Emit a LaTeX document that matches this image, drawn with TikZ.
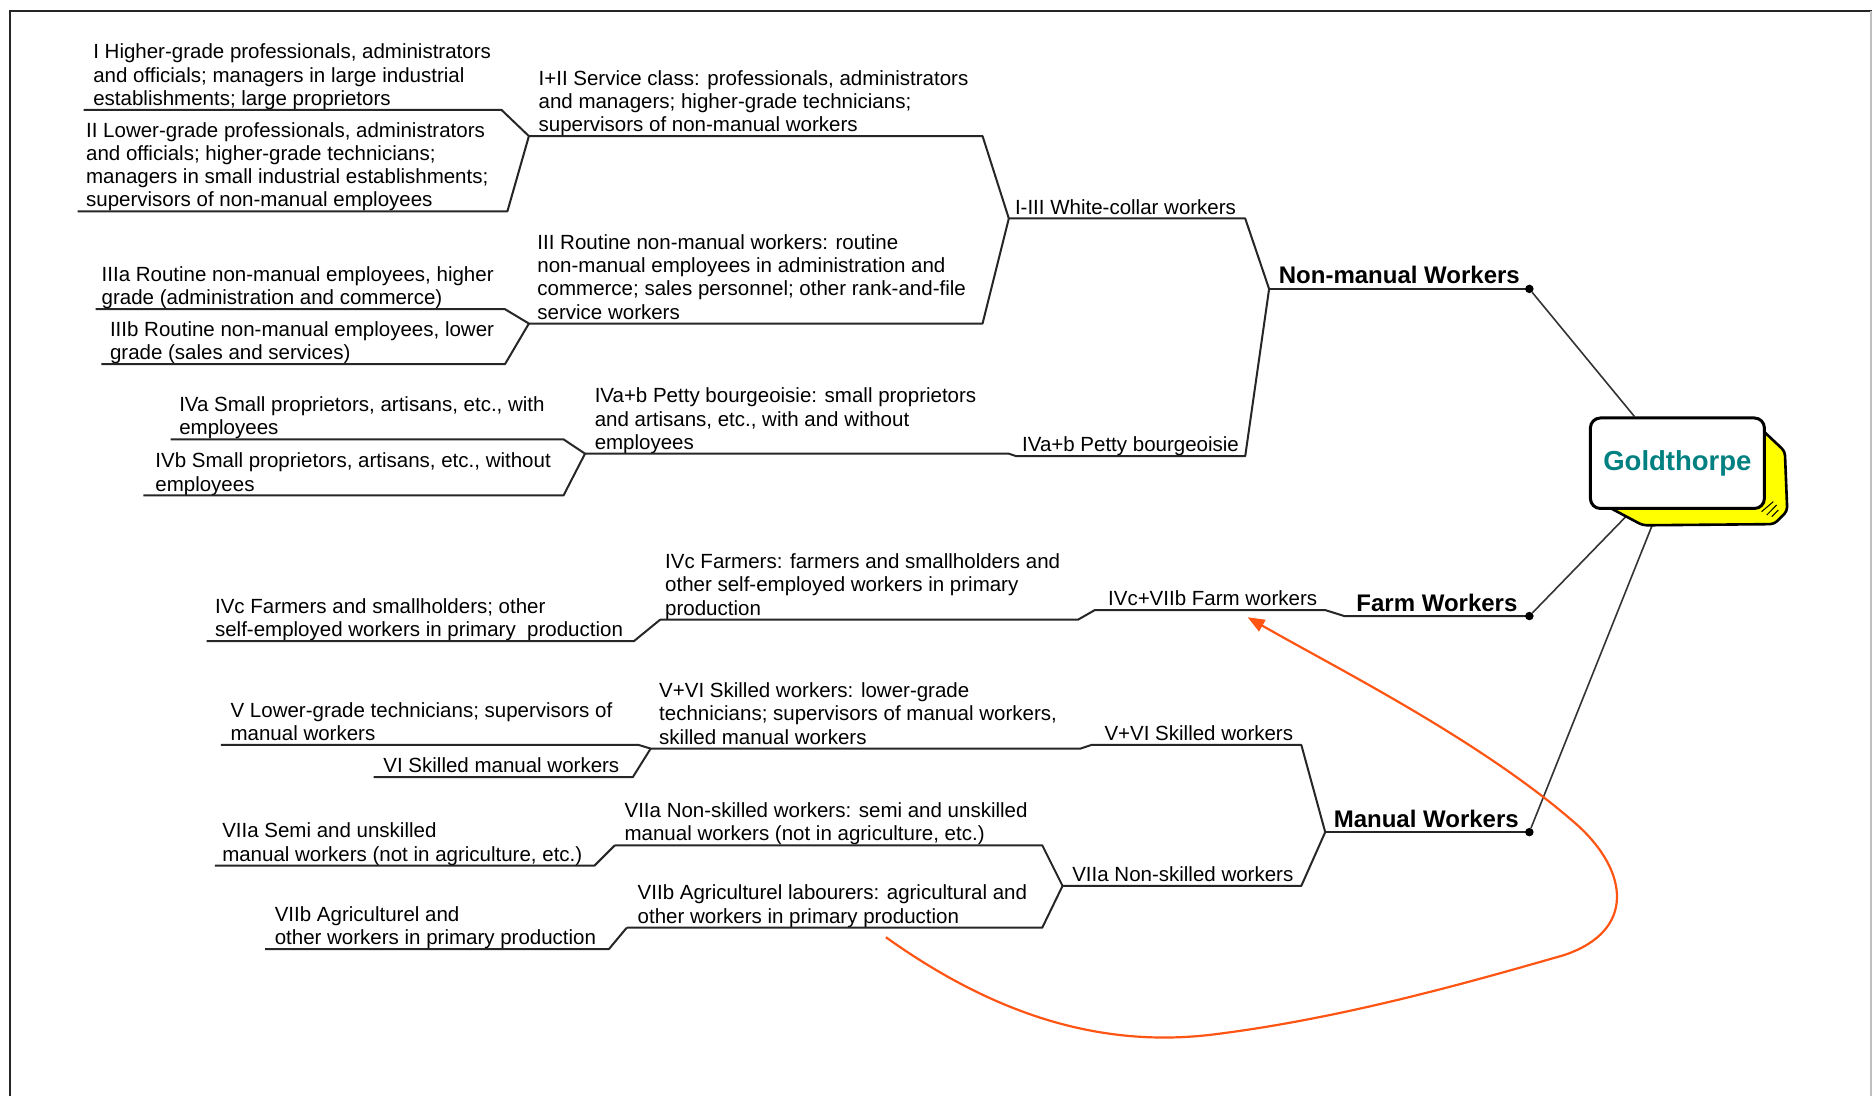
\documentclass[tikz,border=0pt]{standalone}
\usepackage{fontspec}
\setmainfont{Liberation Sans}
\usetikzlibrary{arrows.meta,calc,backgrounds}
\definecolor{orangeline}{RGB}{255,85,20}
\definecolor{tealtext}{RGB}{0,128,128}
\definecolor{boxyellow}{RGB}{255,255,0}
\tikzset{
  txt/.style={anchor=south west, inner sep=0pt, text depth=0pt, align=left, yshift=-2.4pt,
              font=\fontsize{20.5}{23.3}\selectfont},
  big/.style={anchor=south west, inner sep=0pt, text depth=0pt, yshift=-2.4pt,
              font=\fontsize{24}{28}\selectfont\bfseries},
  ln/.style={line width=2pt, black!85, line join=round},
  dotnode/.style={circle, fill=black, inner sep=0pt, minimum size=8.5pt},
  conn/.style={line width=1.6pt, black!80},
  orangearrow/.style={line width=2.2pt, draw=orangeline,
              -{Triangle[length=17pt,width=13pt]}},
}
\begin{document}
\begin{tikzpicture}[x=1.1939pt, y=-1.1939pt]
\useasboundingbox (0,0) rectangle (1568,918);
% frame
\draw[line width=2pt, black!85] (8.4,918) -- (8.4,9.2) -- (1568,9.2);
\draw[line width=1.5pt, black!25] (1567.2,9.2) -- (1567.2,918);

% ---------- Non-manual ----------
\coordinate (jI) at (443,114);
\coordinate (jIII) at (443,271);
\coordinate (jWC) at (845,183);
\coordinate (jNM) at (1063,242);
\coordinate (jIV) at (490,380);
\coordinate (dNM) at (1281,242);

\node[txt] (a1) at (78,86.5) {I Higher-grade professionals, administrators\\and officials; managers in large industrial\\establishments; large proprietors};
\draw[ln] (70,92) -- (420,92) -- (jI);
\node[txt] (a2) at (72,171.5) {II Lower-grade professionals, administrators\\and officials; higher-grade technicians;\\managers in small industrial establishments;\\supervisors of non-manual employees};
\draw[ln] (65,177) -- (425,177) -- (jI);
\node[txt] (b1) at (451,108.5) {I+II Service class: professionals, administrators\\and managers; higher-grade technicians;\\supervisors of non-manual workers};
\draw[ln] (jI) -- (823,114) -- (jWC);

\node[txt] (a3) at (85,253.5) {IIIa Routine non-manual employees, higher\\grade (administration and commerce)};
\draw[ln] (80,259) -- (423,259) -- (jIII);
\node[txt] (a4) at (92,299.5) {IIIb Routine non-manual employees, lower\\grade (sales and services)};
\draw[ln] (85,305) -- (423,305) -- (jIII);
\node[txt] (b2) at (450,265.5) {III Routine non-manual workers: routine\\non-manual employees in administration and\\commerce; sales personnel; other rank-and-file\\service workers};
\draw[ln] (jIII) -- (823,271) -- (jWC);

\node[txt] (c1) at (850,177.5) {I-III White-collar workers};
\draw[ln] (jWC) -- (1043,183) -- (jNM);
\node[big] (nm) at (1071,236) {Non-manual Workers};
\draw[ln] (jNM) -- (dNM);

\node[txt] (a5) at (150,362.5) {IVa Small proprietors, artisans, etc., with\\employees};
\draw[ln] (143,368) -- (472,368) -- (jIV);
\node[txt] (a6) at (130,409.5) {IVb Small proprietors, artisans, etc., without\\employees};
\draw[ln] (120,415) -- (472,415) -- (jIV);
\node[txt] (b3) at (498,374.5) {IVa+b Petty bourgeoisie: small proprietors\\and artisans, etc., with and without\\employees};
\node[txt] (c2) at (856,376.5) {IVa+b Petty bourgeoisie};
\draw[ln] (jIV) -- (845,380) -- (851,382) -- (1043,382) -- (jNM);

% ---------- Farm ----------
\coordinate (jF) at (553,519);
\coordinate (dFW) at (1281,516);
\node[txt] (a7) at (180,531.5) {IVc Farmers and smallholders; other\\self-employed workers in primary\ \ production};
\draw[ln] (173,537) -- (531,537) -- (jF);
\node[txt] (b4) at (557,513.5) {IVc Farmers: farmers and smallholders and\\other self-employed workers in primary\\production};
\node[txt] (c3) at (928,505.5) {IVc+VIIb Farm workers};
\node[big] (fw) at (1136,510) {Farm Workers};
\draw[ln] (jF) -- (903,519) -- (917,511) -- (1110,511) -- (1126,516) -- (dFW);

% ---------- Manual ----------
\coordinate (jV) at (545,627);
\coordinate (jMW) at (1110,697);
\coordinate (dMW) at (1281,697);
\coordinate (jVIIa) at (515,708);
\coordinate (jVIIb) at (525,777);
\coordinate (jNS) at (890,742);

\node[txt] (a8) at (193,618.5) {V Lower-grade technicians; supervisors of\\manual workers};
\draw[ln] (185,624) -- (535,624) -- (jV);
\node[txt] (a9) at (321,645.5) {VI Skilled manual workers};
\draw[ln] (313,651) -- (530,651) -- (jV);
\node[txt] (b5) at (552,621.5) {V+VI Skilled workers: lower-grade\\technicians; supervisors of manual workers,\\skilled manual workers};
\node[txt] (c4) at (925,618.5) {V+VI Skilled workers};
\draw[ln] (jV) -- (905,627) -- (914,624) -- (1090,624) -- (jMW);
\node[big] (mw) at (1117,691) {Manual Workers};
\draw[ln] (jMW) -- (dMW);

\node[txt] (a10) at (186,719.5) {VIIa Semi and unskilled\\manual workers (not in agriculture, etc.)};
\draw[ln] (180,725) -- (498,725) -- (jVIIa);
\node[txt] (b6) at (523,702.5) {VIIa Non-skilled workers: semi and unskilled\\manual workers (not in agriculture, etc.)};
\draw[ln] (jVIIa) -- (873,708) -- (jNS);
\node[txt] (a11) at (230,789.5) {VIIb Agriculturel and\\other workers in primary production};
\draw[ln] (222,795) -- (510,795) -- (jVIIb);
\node[txt] (b7) at (534,771.5) {VIIb Agriculturel labourers: agricultural and\\other workers in primary production};
\draw[ln] (jVIIb) -- (873,777) -- (jNS);
\node[txt] (c5) at (898,736.5) {VIIa Non-skilled workers};
\draw[ln] (jNS) -- (1090,742) -- (jMW);

% dots
\node[dotnode] (dotNM) at (dNM) {};
\node[dotnode] (dotFW) at (dFW) {};
\node[dotnode] (dotMW) at (dMW) {};

% ---------- Goldthorpe box ----------
\node[draw=black, line width=3pt, fill=white, rounded corners=10pt,
      minimum width=174pt, minimum height=90.5pt,
      font=\fontsize{27.5}{30}\selectfont\bfseries, text=tealtext] (gold) at (1405,388) {Goldthorpe};
\begin{scope}[on background layer]
  \draw[conn] (dotNM) -- ($(gold.north west)!0.257!(gold.north east)$);
  \draw[conn] (dotFW) -- ($(gold.south west)!0.245!(gold.south east)$);
  \draw[conn] (dotMW) -- ($(gold.south west)!0.392!(gold.south east)$);
  \filldraw[fill=boxyellow, draw=black, line width=2.6pt, line join=round, rounded corners=4pt]
    (1472,354) -- (1478,362) -- (1495,378) -- (1497,428) -- (1486,439)
    -- (1376,440) -- (1346,424) -- cycle;
  \draw[line width=1pt] (1475.5,428.6) -- (1485.3,420.2);
  \draw[line width=1pt] (1479.8,431.4) -- (1488.1,423);
  \draw[line width=1pt] (1484,432.8) -- (1489.5,427.2);
\end{scope}

% ---------- orange arrow ----------
\coordinate (oStart) at (742,785);
\coordinate (oEnd) at (1045,517);
\draw[orangearrow] (oStart) .. controls (840,855) and (930,878) .. (1020,866)
   .. controls (1130,852) and (1240,820) .. (1310,800)
   .. controls (1370,780) and (1365,730) .. (1320,690)
   .. controls (1240,620) and (1120,560) .. (oEnd);
\end{tikzpicture}
\end{document}
